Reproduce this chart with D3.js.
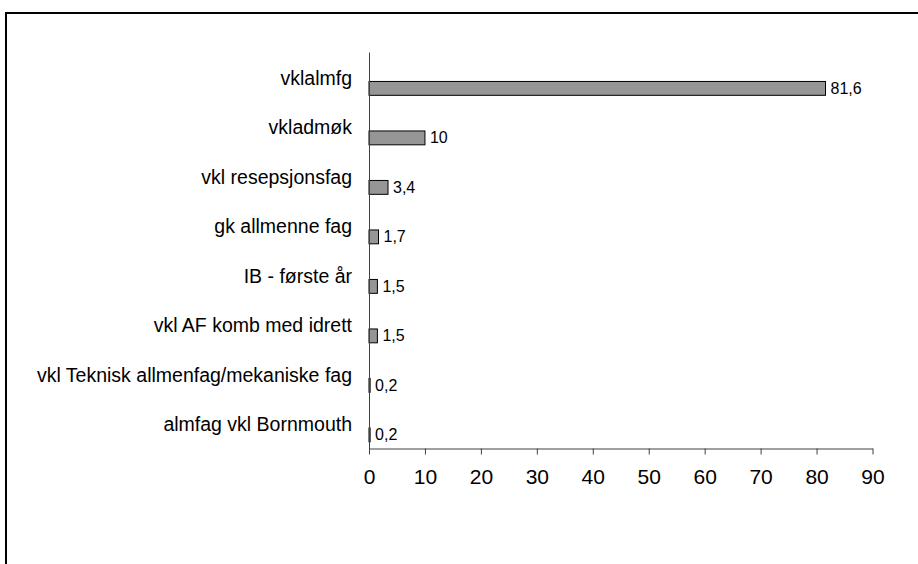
<!DOCTYPE html>
<html>
<head>
<meta charset="utf-8">
<script src="https://cdn.jsdelivr.net/npm/d3@7"></script>
<style>
  body { margin: 0; background: #fff; }
  text { font-family: "Liberation Sans", Arial, sans-serif; fill: #000; }
</style>
</head>
<body>
<div id="chart"></div>
<script>
const categories = [
    "vklalmfg",
    "vkladmøk",
    "vkl resepsjonsfag",
    "gk allmenne fag",
    "IB - første år",
    "vkl AF komb med idrett",
    "vkl Teknisk allmenfag/mekaniske fag",
    "almfag vkl Bornmouth"
];
const values = [81.6, 10, 3.4, 1.7, 1.5, 1.5, 0.2, 0.2];
const valueLabels = ["81,6", "10", "3,4", "1,7", "1,5", "1,5", "0,2", "0,2"];
const xTicks = [0, 10, 20, 30, 40, 50, 60, 70, 80, 90];

const width = 918, height = 564;

const svg = d3.select("#chart").append("svg")
    .attr("width", width)
    .attr("height", height);

// outer frame (runs off the right and bottom edge)
svg.append("rect")
    .attr("x", 6).attr("y", 13)
    .attr("width", 1000).attr("height", 1000)
    .attr("fill", "none")
    .attr("stroke", "#000")
    .attr("stroke-width", 2);

const x = d3.scaleLinear().domain([0, 90]).range([369, 872.5]);
const y = d3.scaleBand().domain(categories).range([52.5, 448.5]);

const bw = y.bandwidth();

// bars
svg.selectAll(".bar")
    .data(categories)
    .enter().append("rect")
    .attr("class", "bar")
    .attr("x", x(0))
    .attr("y", d => y(d) + bw * 0.585)
    .attr("width", (d, i) => x(values[i]) - x(0))
    .attr("height", bw * 0.28)
    .attr("fill", "#969696")
    .attr("stroke", "#000")
    .attr("stroke-width", 1);

// value labels
svg.selectAll(".val")
    .data(categories)
    .enter().append("text")
    .attr("class", "val")
    .attr("x", (d, i) => x(values[i]) + 5)
    .attr("y", d => y(d) + bw * 0.725)
    .attr("dy", "0.35em")
    .style("font-size", "16px")
    .text((d, i) => valueLabels[i]);

// category labels
svg.selectAll(".cat")
    .data(categories)
    .enter().append("text")
    .attr("class", "cat")
    .attr("x", 352)
    .attr("y", d => y(d) + bw / 2 + 0.5)
    .attr("dy", "0.35em")
    .attr("text-anchor", "end")
    .style("font-size", "19.5px")
    .text(d => d);

// y axis line
svg.append("line")
    .attr("x1", x(0) + 0.5).attr("x2", x(0) + 0.5)
    .attr("y1", 52.5).attr("y2", 449)
    .attr("stroke", "#404040");

// x axis
const xAxis = svg.append("g")
    .attr("transform", "translate(0,448.5)")
    .call(d3.axisBottom(x).tickValues(xTicks).tickSize(6).tickPadding(15).tickSizeOuter(0));
xAxis.select(".domain").attr("stroke", "#404040");
xAxis.selectAll(".tick line").attr("stroke", "#404040");
xAxis.selectAll(".tick text")
    .style("font-size", "21px")
    .style("font-family", "'Liberation Sans', Arial, sans-serif")
    .attr("fill", "#000");
</script>
</body>
</html>
